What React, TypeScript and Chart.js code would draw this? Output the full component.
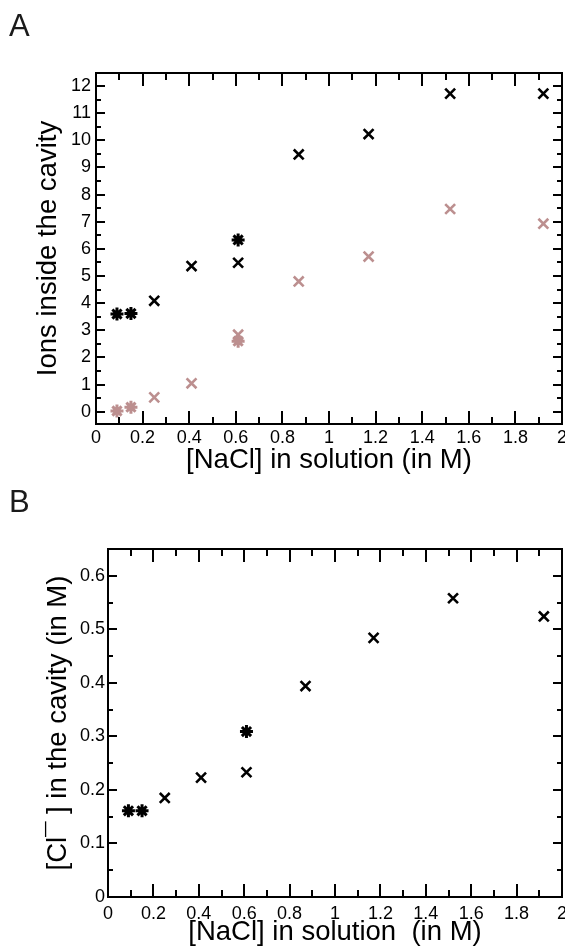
import React, { useEffect, useRef } from "react";
import { Chart, registerables } from "chart.js";
Chart.register(...registerables);

const FONT = "'Liberation Sans', Arial, Helvetica, sans-serif";
const PINK = "#bc8f8f";

// ---- Panel A data ----
const concStar = [0.09, 0.15, 0.61];
const concCross = [0.25, 0.41, 0.61, 0.87, 1.17, 1.52, 1.92];
const ionsBlackStar = [3.6, 3.62, 6.33];
const ionsBlackCross = [4.09, 5.37, 5.49, 9.48, 10.23, 11.72, 11.72];
const ionsPinkStar = [0.03, 0.17, 2.6];
const ionsPinkCross = [0.53, 1.05, 2.84, 4.8, 5.72, 7.47, 6.93];

// ---- Panel B data ----
const clStar = [0.161, 0.161, 0.309];
const clCross = [0.185, 0.223, 0.233, 0.394, 0.484, 0.558, 0.524];

// ---- ticks ----
const xMajor = [0, 0.2, 0.4, 0.6, 0.8, 1, 1.2, 1.4, 1.6, 1.8, 2];
const xMinor = [0.1, 0.3, 0.5, 0.7, 0.9, 1.1, 1.3, 1.5, 1.7, 1.9];
const yMajorA = [0, 1, 2, 3, 4, 5, 6, 7, 8, 9, 10, 11, 12];
const yMinorA = [0.5, 1.5, 2.5, 3.5, 4.5, 5.5, 6.5, 7.5, 8.5, 9.5, 10.5, 11.5];
const yMajorB = [0, 0.1, 0.2, 0.3, 0.4, 0.5, 0.6];
const yMinorB = [0.05, 0.15, 0.25, 0.35, 0.45, 0.55];

const pts = (xs: number[], ys: number[]) => xs.map((x, i) => ({ x, y: ys[i] }));
const fmt = (v: number) => String(Number(Number(v).toFixed(2)));

function makeFrame(f: any) {
  return {
    id: "frameTicks" + f.letter,
    afterDraw(chart: any) {
      const ctx = chart.ctx;
      const a = chart.chartArea;
      const sx = chart.scales.x;
      const sy = chart.scales.y;
      ctx.save();
      ctx.fillStyle = "#000";
      for (const v of f.xMajor) {
        const p = Math.round(sx.getPixelForValue(v));
        ctx.fillRect(p - 1, a.bottom - 13, 2, 13);
        ctx.fillRect(p - 1, a.top, 2, 13);
      }
      for (const v of f.xMinor) {
        const p = Math.round(sx.getPixelForValue(v));
        ctx.fillRect(p - 1, a.bottom - 7, 2, 7);
        ctx.fillRect(p - 1, a.top, 2, 7);
      }
      for (const v of f.yMajor) {
        const p = Math.round(sy.getPixelForValue(v));
        ctx.fillRect(a.left, p - 1, 9, 2);
        ctx.fillRect(a.right - 9, p - 1, 9, 2);
      }
      for (const v of f.yMinor) {
        const p = Math.round(sy.getPixelForValue(v));
        ctx.fillRect(a.left, p - 1, 5, 2);
        ctx.fillRect(a.right - 5, p - 1, 5, 2);
      }
      ctx.strokeStyle = "#000";
      ctx.lineWidth = 2;
      ctx.strokeRect(a.left, a.top, a.right - a.left, a.bottom - a.top);
      ctx.fillStyle = "#1a1a1a";
      ctx.font = `31px ${FONT}`;
      ctx.textBaseline = "alphabetic";
      ctx.textAlign = "left";
      ctx.fillText(f.letter, f.lx, f.ly);
      ctx.restore();
    },
  };
}

function makeChart(canvas: HTMLCanvasElement, cfg: any) {
  const zeroPad = (s: any) => {
    s.paddingLeft = 0;
    s.paddingRight = 0;
    s.paddingTop = 0;
    s.paddingBottom = 0;
  };
  return new Chart(canvas, {
    type: "scatter",
    data: { datasets: cfg.datasets },
    plugins: [makeFrame(cfg.frame)],
    options: {
      animation: false,
      responsive: false,
      events: [],
      layout: { padding: cfg.padding, autoPadding: false },
      plugins: {
        legend: { display: false },
        tooltip: { enabled: false },
      },
      scales: {
        x: {
          type: "linear",
          min: 0,
          max: 2,
          afterBuildTicks: (s: any) => {
            s.ticks = xMajor.map((v) => ({ value: v }));
          },
          afterFit: (s: any) => {
            s.height = 50;
            zeroPad(s);
          },
          grid: { display: false, drawTicks: false },
          border: { display: false },
          ticks: {
            autoSkip: false,
            maxRotation: 0,
            padding: cfg.xTickPad,
            color: "#000",
            font: { family: FONT, size: 18 },
            callback: (v: any) => fmt(v),
          },
          title: {
            display: true,
            text: cfg.xTitle,
            color: "#000",
            font: { family: FONT, size: 27.5 },
            padding: { top: 0, bottom: cfg.xTitlePad },
          },
        },
        y: {
          type: "linear",
          min: cfg.yMin,
          max: cfg.yMax,
          afterBuildTicks: (s: any) => {
            s.ticks = cfg.yMajor.map((v: number) => ({ value: v }));
          },
          afterFit: (s: any) => {
            s.width = cfg.yWidth;
            zeroPad(s);
          },
          grid: { display: false, drawTicks: false },
          border: { display: false },
          ticks: {
            autoSkip: false,
            padding: cfg.yTickPad,
            color: "#000",
            font: { family: FONT, size: 18 },
            callback: (v: any) => fmt(v),
          },
          title: {
            display: true,
            text: cfg.yTitle,
            color: "#000",
            font: { family: FONT, size: 27.5 },
            padding: { top: cfg.yTitlePad, bottom: 0 },
          },
        },
      },
    } as any,
  });
}

const starDs = (data: any[], color: string) => ({
  data,
  pointStyle: "star",
  pointRadius: 6.5,
  pointBorderWidth: 3,
  borderColor: color,
  backgroundColor: color,
  showLine: false,
});
const crossDs = (data: any[], color: string) => ({
  data,
  pointStyle: "crossRot",
  pointRadius: 7,
  pointBorderWidth: 2.6,
  borderColor: color,
  backgroundColor: color,
  showLine: false,
});

export default function App() {
  const refA = useRef<HTMLCanvasElement>(null);
  const refB = useRef<HTMLCanvasElement>(null);

  useEffect(() => {
    const a = makeChart(refA.current!, {
      datasets: [
        crossDs(pts(concCross, ionsPinkCross), PINK),
        starDs(pts(concStar, ionsPinkStar), PINK),
        crossDs(pts(concCross, ionsBlackCross), "#000"),
        starDs(pts(concStar, ionsBlackStar), "#000"),
      ],
      padding: { left: 0, top: 73, right: 3, bottom: 473 },
      yMin: -0.45,
      yMax: 12.48,
      yMajor: yMajorA,
      yWidth: 96,
      xTickPad: 3,
      yTickPad: 5,
      xTitle: "[NaCl] in solution (in M)",
      xTitlePad: -3,
      yTitle: "Ions inside the cavity",
      yTitlePad: 32,
      frame: { xMajor, xMinor, yMajor: yMajorA, yMinor: yMinorA, letter: "A", lx: 9, ly: 36 },
    });
    const b = makeChart(refB.current!, {
      datasets: [
        crossDs(pts(concCross, clCross), "#000"),
        starDs(pts(concStar, clStar), "#000"),
      ],
      padding: { left: 0, top: 549, right: 3, bottom: 0 },
      yMin: 0,
      yMax: 0.65,
      yMajor: yMajorB,
      yWidth: 108,
      xTickPad: 6,
      yTickPad: 3,
      xTitle: "[NaCl] in solution  (in M)",
      xTitlePad: -1.5,
      yTitle: "[Cl¯ ] in the cavity (in M)",
      yTitlePad: 42,
      frame: { xMajor, xMinor, yMajor: yMajorB, yMinor: yMinorB, letter: "B", lx: 9, ly: 512 },
    });
    return () => {
      a.destroy();
      b.destroy();
    };
  }, []);

  const cs: React.CSSProperties = { position: "absolute", left: 0, top: 0 };
  return (
    <div style={{ position: "absolute", left: 0, top: 0, width: 565, height: 947, background: "#fff" }}>
      <canvas ref={refA} width={565} height={947} style={cs} />
      <canvas ref={refB} width={565} height={947} style={cs} />
    </div>
  );
}
